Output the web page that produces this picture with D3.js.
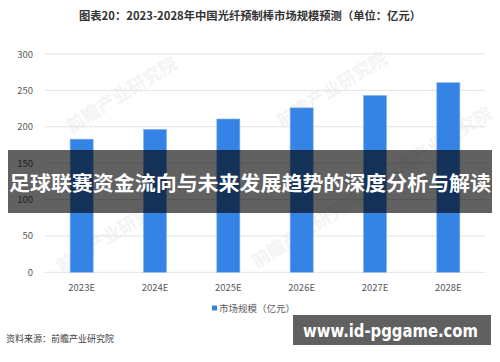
<!DOCTYPE html>
<html>
<head>
<meta charset="utf-8">
<script src="https://cdn.jsdelivr.net/npm/d3@7"></script>
<style>
  body { margin: 0; background: #fff; }
  svg { display: block; }
</style>
</head>
<body>
<svg id="chart" width="500" height="362"></svg>
<script>
const years = ["2023E", "2024E", "2025E", "2026E", "2027E", "2028E"];
const marketSize = [183, 196.5, 210.7, 226, 243, 260.6];
const yTicks = [0, 50, 100, 150, 200, 250, 300];
const title = "图表20：2023-2028年中国光纤预制棒市场规模预测（单位：亿元）";
const legendLabel = "市场规模（亿元）";
const source = "资料来源：前瞻产业研究院";
const banner = "足球联赛资金流向与未来发展趋势的深度分析与解读";
const site = "www.id-pggame.com";
const watermarks = [[125, 100], [335, 95], [115, 240], [310, 235], [440, 150]];

const svg = d3.select("#chart");
const font = "'Noto Sans CJK SC', 'Noto Sans', sans-serif";

const x = d3.scaleBand().domain(years).range([45, 485]).paddingInner(0.685).paddingOuter(0.3425);
const y = d3.scaleLinear().domain([0, 300]).range([272.3, 54]);

// faint watermarks
svg.append("g")
  .selectAll("text")
  .data(watermarks)
  .join("text")
  .attr("transform", d => `translate(${d[0]},${d[1]}) rotate(-32)`)
  .attr("text-anchor", "middle")
  .attr("font-family", font)
  .attr("font-weight", "bold")
  .attr("font-size", 18)
  .attr("fill", "#000")
  .attr("opacity", 0.045)
  .text("前瞻产业研究院");

svg.append("text")
  .attr("x", 250).attr("y", 20)
  .attr("text-anchor", "middle")
  .attr("font-family", font)
  .attr("font-weight", "bold")
  .attr("font-size", 11.3)
  .attr("fill", "#333")
  .text(title);

// grid + y labels
const yAxis = svg.append("g");
yAxis.selectAll("line")
  .data(yTicks)
  .join("line")
  .attr("x1", 45).attr("x2", 485)
  .attr("y1", d => y(d)).attr("y2", d => y(d))
  .attr("stroke", "#e3e3e3")
  .attr("stroke-width", 1);
yAxis.selectAll("text")
  .data(yTicks)
  .join("text")
  .attr("x", 33).attr("y", d => y(d) + 3.5)
  .attr("text-anchor", "end")
  .attr("font-family", font)
  .attr("font-size", 9.5)
  .attr("fill", "#595959")
  .text(d => d);

// bars
svg.append("g")
  .selectAll("rect")
  .data(marketSize)
  .join("rect")
  .attr("x", (d, i) => x(years[i]))
  .attr("width", x.bandwidth())
  .attr("y", d => y(d))
  .attr("height", d => y(0) - y(d))
  .attr("fill", "#3683e6")
  .attr("stroke", "#8cb8f0")
  .attr("stroke-width", 0.6);

// x labels
svg.append("g")
  .selectAll("text")
  .data(years)
  .join("text")
  .attr("x", d => x(d) + x.bandwidth() / 2)
  .attr("y", 290.5)
  .attr("text-anchor", "middle")
  .attr("font-family", font)
  .attr("font-size", 9.5)
  .attr("fill", "#595959")
  .text(d => d);

// legend
svg.append("rect")
  .attr("x", 212).attr("y", 305.5).attr("width", 5).attr("height", 5)
  .attr("fill", "#3683e6");
svg.append("text")
  .attr("x", 219).attr("y", 312)
  .attr("font-family", font)
  .attr("font-size", 9.5)
  .attr("fill", "#595959")
  .text(legendLabel);

// source
svg.append("text")
  .attr("x", 6).attr("y", 342)
  .attr("font-family", font)
  .attr("font-size", 9)
  .attr("fill", "#404040")
  .text(source);

// dark banner overlay
svg.append("rect")
  .attr("x", 8).attr("y", 150).attr("width", 484).attr("height", 63)
  .attr("fill", "#000").attr("opacity", 0.62);
svg.append("text")
  .attr("x", 250).attr("y", 191)
  .attr("text-anchor", "middle")
  .attr("font-family", font)
  .attr("font-weight", "bold")
  .attr("font-size", 20)
  .attr("fill", "#fff")
  .attr("textLength", 482)
  .attr("lengthAdjust", "spacingAndGlyphs")
  .text(banner);

// site box
svg.append("rect")
  .attr("x", 293).attr("y", 315).attr("width", 198).attr("height", 30)
  .attr("fill", "#606060");
svg.append("text")
  .attr("x", 303).attr("y", 337)
  .attr("font-family", "'DejaVu Sans', sans-serif")
  .attr("font-weight", "bold")
  .attr("font-size", 18)
  .attr("fill", "#fff")
  .attr("textLength", 175)
  .attr("lengthAdjust", "spacingAndGlyphs")
  .text(site);
</script>
</body>
</html>
